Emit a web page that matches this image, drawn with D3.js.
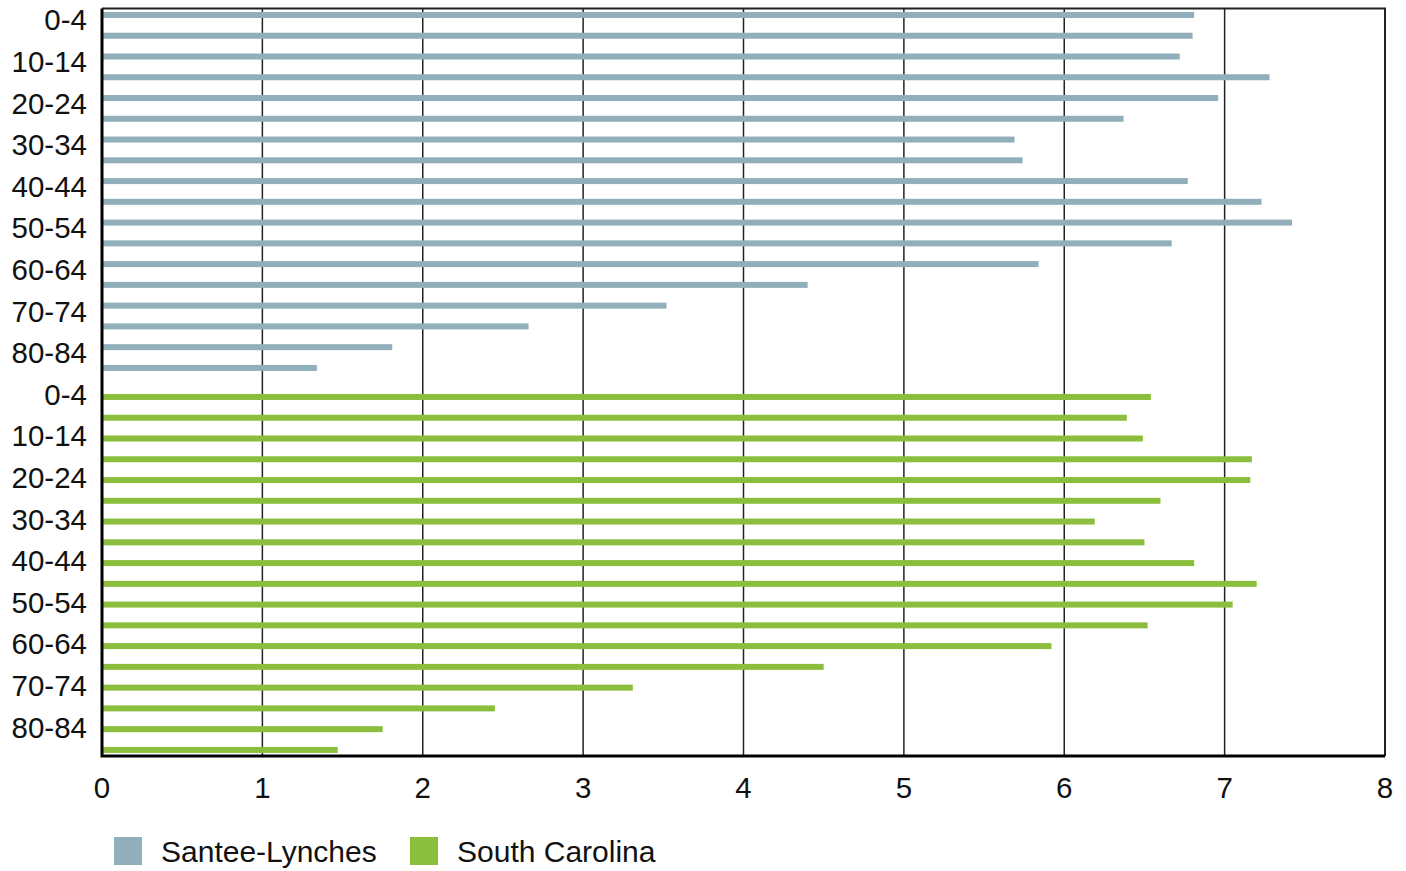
<!DOCTYPE html>
<html>
<head>
<meta charset="utf-8">
<script src="https://cdn.jsdelivr.net/npm/d3@7"></script>
<style>
  body { margin: 0; background: #fff; }
  svg { display: block; font-family: "Liberation Sans", Arial, sans-serif; }
</style>
</head>
<body>
<svg width="1406" height="871"></svg>
<script>
"use strict";
// age groups, top to bottom for each region
var ageGroups = ['0-4','5-9','10-14','15-19','20-24','25-29','30-34','35-39','40-44',
                 '45-49','50-54','55-59','60-64','65-69','70-74','75-79','80-84','85+'];
var santeeLynches = [6.81, 6.80, 6.72, 7.28, 6.96, 6.37, 5.69, 5.74, 6.77,
                     7.23, 7.42, 6.67, 5.84, 4.40, 3.52, 2.66, 1.81, 1.34];
var southCarolina = [6.54, 6.39, 6.49, 7.17, 7.16, 6.60, 6.19, 6.50, 6.81,
                     7.20, 7.05, 6.52, 5.92, 4.50, 3.31, 2.45, 1.75, 1.47];
var seriesNames = ['Santee-Lynches', 'South Carolina'];
var xTicks = [0, 1, 2, 3, 4, 5, 6, 7, 8];

var colors = ['#91afba', '#8cbe3d'];

var rows = [];
santeeLynches.forEach((v, i) => rows.push({label: ageGroups[i], value: v, s: 0, i: i}));
southCarolina.forEach((v, i) => rows.push({label: ageGroups[i], value: v, s: 1, i: i}));

var plotLeft = 102, plotRight = 1385, plotTop = 8.5, plotBottom = 756;

var x = d3.scaleLinear().domain([0, 8]).range([plotLeft, plotRight]);
// bar rows within one region, and where each region block starts
var y = d3.scaleBand().domain(d3.range(ageGroups.length)).range([4.6, 378.3]);
var groupOffset = [0, 382];
// category labels: every other age group, evenly spaced down the axis
var labels = rows.filter(d => d.i % 2 === 0);
var yLabel = d3.scaleBand().domain(d3.range(labels.length)).range([-0.8, 747.8]);

var svg = d3.select("svg");

// gridlines
svg.append("g").selectAll("line")
  .data(xTicks.slice(1, -1))
  .enter()
  .append("line")
  .attr('x1', d => x(d)).attr('x2', d => x(d))
  .attr('y1', plotTop).attr('y2', plotBottom)
  .attr('stroke', '#222')
  .attr('stroke-width', 1.5);

// bars
svg.append("g").selectAll("rect")
  .data(rows)
  .enter()
  .append("rect")
  .attr('x', x(0))
  .attr('y', d => groupOffset[d.s] + y(d.i) + y.bandwidth() / 2 - 3)
  .attr('width', d => x(d.value) - x(0))
  .attr('height', 6)
  .attr('fill', d => colors[d.s]);

// frame
svg.append("path")
  .attr('d', 'M' + plotLeft + ',' + plotTop + 'H' + plotRight + 'V' + plotBottom)
  .attr('fill', 'none')
  .attr('stroke', '#222')
  .attr('stroke-width', 2);
svg.append("path")
  .attr('d', 'M' + plotLeft + ',' + plotTop + 'V' + plotBottom + 'H' + plotRight)
  .attr('fill', 'none')
  .attr('stroke', '#000')
  .attr('stroke-width', 3);

// y labels
svg.append("g").selectAll("text")
  .data(labels)
  .enter()
  .append("text")
  .attr('x', 87)
  .attr('y', (d, k) => yLabel(k) + yLabel.bandwidth() / 2 + 10.5)
  .attr('text-anchor', 'end')
  .attr('font-size', 29.5)
  .attr('fill', '#111')
  .text(d => d.label);

// x tick labels
svg.append("g").selectAll("text")
  .data(xTicks)
  .enter()
  .append("text")
  .attr('x', d => x(d))
  .attr('y', 798)
  .attr('text-anchor', 'middle')
  .attr('font-size', 29.5)
  .attr('fill', '#111')
  .text(d => d);

// legend
var legendX = [114, 410];
var legend = svg.append("g").selectAll("g")
  .data(seriesNames)
  .enter()
  .append("g")
  .attr('transform', (d, i) => 'translate(' + legendX[i] + ',837)');
legend.append("rect")
  .attr('width', 28).attr('height', 28)
  .attr('fill', (d, i) => colors[i]);
legend.append("text")
  .attr('x', 47)
  .attr('y', 25)
  .attr('font-size', 30)
  .attr('fill', '#111')
  .text(d => d);
</script>
</body>
</html>
